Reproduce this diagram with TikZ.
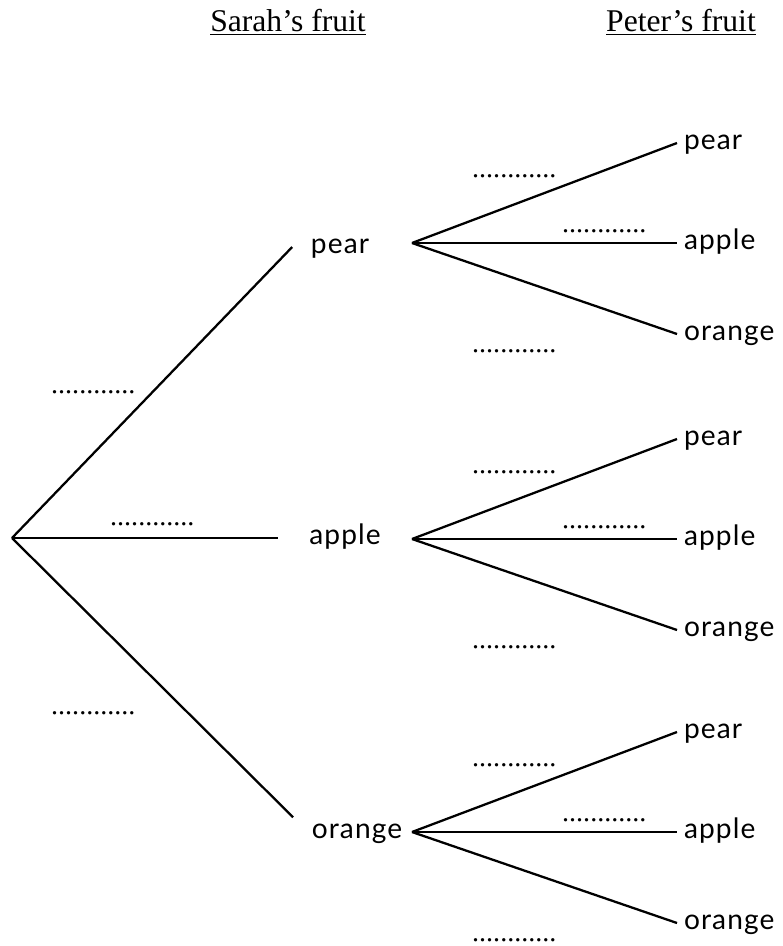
\documentclass[tikz,border=0pt]{standalone}
\usepackage{fontspec}
\setmainfont{Liberation Serif}
\newfontfamily\handfont[LetterSpace=4]{Lato}
\usepackage{tikz}
\usetikzlibrary{calc}
\tikzstyle{fruit} = [font=\handfont\fontsize{16}{19}\selectfont, text height=8.5pt, text depth=1pt]
\tikzstyle{sarah} = [fruit, inner xsep=10pt, inner ysep=3pt]
\tikzstyle{heading} = [font=\fontsize{18}{21}\selectfont, anchor=base]
\tikzstyle{blank} = [font=\fontsize{16}{19}\selectfont, inner sep=0pt, anchor=base west]

\begin{document}
\begin{tikzpicture}[line width=1.3pt,x=0.02cm,y=-0.02cm]
  \useasboundingbox (0,0) rectangle (782,946);

  \node[heading] (H_sarah) at (288,32) {\underline{Sarah’s fruit}};
  \node[heading] (H_peter) at (681,32) {\underline{Peter’s fruit}};

  \coordinate (root) at (12,538);
  \node[sarah] (S_pear) at (340,247) {pear};
  \node[sarah, inner xsep=17pt] (S_apple) at (345,538) {apple};
  \node[sarah] (S_orange) at (357,832) {orange};

  \coordinate (F_pear) at (412,243);
  \coordinate (F_apple) at (412,539);
  \coordinate (F_orange) at (412,832);

  \node[fruit, anchor=west] (P1_pear) at ($(F_pear)+(265,-100)$) {pear};
  \node[fruit, anchor=west] (P1_apple) at ($(F_pear)+(265,0)$) {apple};
  \node[fruit, anchor=west] (P1_orange) at ($(F_pear)+(265,91)$) {orange};
  \node[fruit, anchor=west] (P2_pear) at ($(F_apple)+(265,-100)$) {pear};
  \node[fruit, anchor=west] (P2_apple) at ($(F_apple)+(265,0)$) {apple};
  \node[fruit, anchor=west] (P2_orange) at ($(F_apple)+(265,91)$) {orange};
  \node[fruit, anchor=west] (P3_pear) at ($(F_orange)+(265,-100)$) {pear};
  \node[fruit, anchor=west] (P3_apple) at ($(F_orange)+(265,0)$) {apple};
  \node[fruit, anchor=west] (P3_orange) at ($(F_orange)+(265,91)$) {orange};

  % answer spaces
  \node[blank] (D_pear) at (50,393) {............};
  \node[blank] (D_apple) at (109,525) {............};
  \node[blank] (D_orange) at (50,714) {............};
  \node[blank] (D1_pear) at ($(F_pear)+(59,-66)$) {............};
  \node[blank] (D1_apple) at ($(F_pear)+(149,-11)$) {............};
  \node[blank] (D1_orange) at ($(F_pear)+(59,109)$) {............};
  \node[blank] (D2_pear) at ($(F_apple)+(59,-66)$) {............};
  \node[blank] (D2_apple) at ($(F_apple)+(149,-11)$) {............};
  \node[blank] (D2_orange) at ($(F_apple)+(59,109)$) {............};
  \node[blank] (D3_pear) at ($(F_orange)+(59,-66)$) {............};
  \node[blank] (D3_apple) at ($(F_orange)+(149,-11)$) {............};
  \node[blank] (D3_orange) at ($(F_orange)+(59,109)$) {............};

  \path (root) edge (S_pear.west);
  \path (root) edge (S_apple.west);
  \path (root) edge (S_orange.north west);

  \path (F_pear) edge (P1_pear.west);
  \path (F_pear) edge (P1_apple.west);
  \path (F_pear) edge (P1_orange.west);
  \path (F_apple) edge (P2_pear.west);
  \path (F_apple) edge (P2_apple.west);
  \path (F_apple) edge (P2_orange.west);
  \path (F_orange) edge (P3_pear.west);
  \path (F_orange) edge (P3_apple.west);
  \path (F_orange) edge (P3_orange.west);
\end{tikzpicture}
\end{document}
